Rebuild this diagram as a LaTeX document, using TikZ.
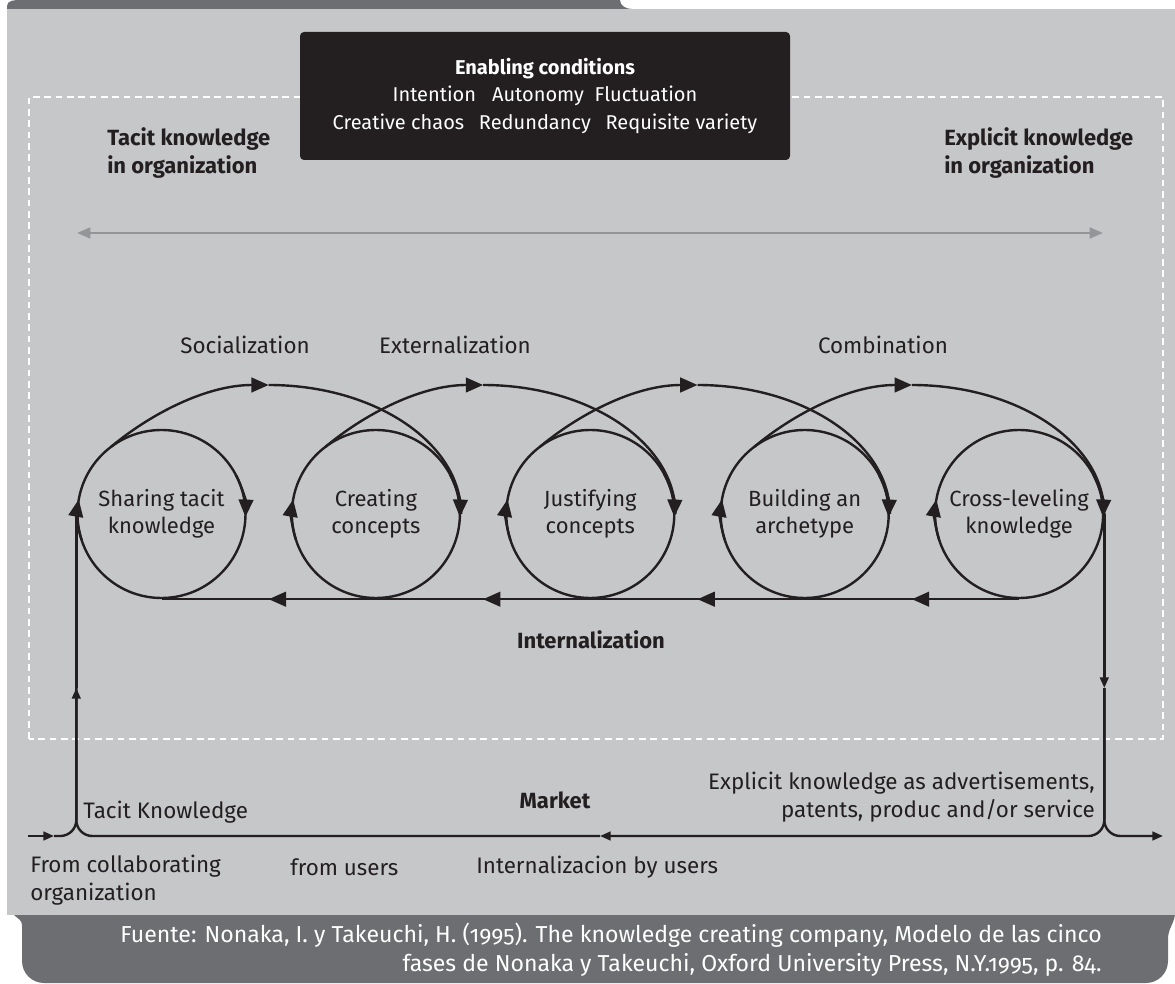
\documentclass[tikz,border=0pt]{standalone}
\usepackage{fontspec}
\setmainfont{Fira Sans}
\newfontfamily\notefont[Numbers=OldStyle]{Fira Sans}
\usepackage{tikz}
\usetikzlibrary{arrows.meta}
\usetikzlibrary{calc, positioning, decorations.markings}
\definecolor{panel}{HTML}{C6C7C9}
\definecolor{band}{HTML}{6D6E71}
\definecolor{ink}{HTML}{231F20}
\definecolor{rulegrey}{HTML}{939598}
\tikzset{
	flow/.style={draw=ink, line width=1.8pt},
	tipL/.style={-{Triangle[length=13pt, width=11pt]}},
	tipS/.style={-{Triangle[length=8pt, width=6.5pt]}},
	midtip/.style={postaction={decorate},
		decoration={markings, mark=at position #1 with {\arrow{Triangle[length=13pt, width=11pt]}}}},
	stage/.style={flow, circle,
		minimum size=126pt,
		inner sep=0pt, align=center, text=ink,
		font=\fontsize{16.5}{20}\selectfont},
	lbl/.style={inner sep=0pt, text=ink, font=\fontsize{16.8}{20.5}\selectfont},
	hdr/.style={lbl, font=\fontsize{16.5}{20.5}\selectfont\bfseries}
}

\begin{document}
\begin{tikzpicture}[x=0.75pt, y=0.75pt]
	\useasboundingbox (0,0) rectangle (1175,983);
	% page background
	\fill[panel] (7,68) rectangle (1175,974);
	\fill[band] (7,974) -- (7,977) to[out=90, in=180] (20,983) -- (620,983) to[out=-90, in=180] (632,974) -- cycle;
	\fill[band] (14,68) -- (1175,68) to[out=-100, in=90] (1168,44) -- (1168,22)
		arc[start angle=0, end angle=-90, radius=22] -- (44,0)
		arc[start angle=270, end angle=180, radius=22] -- (22,58) to[out=90, in=-45] (14,68) -- cycle;
	\draw[white, line width=1.3pt, dash pattern=on 5pt off 3.5pt] (29,244) rectangle (1163,886);
	
	\node (cond) [fill=ink, rounded corners=3pt, minimum width=367.5pt, minimum height=96pt,
		text=white, align=center, inner sep=0pt, font=\fontsize{15}{20.6}\selectfont] at (545,887)
		{\textbf{Enabling conditions}\\Intention\hspace{12pt}Autonomy\hspace{8pt}Fluctuation\\Creative chaos\hspace{11pt}Redundancy\hspace{11pt}Requisite variety};
	
	\node (tacit) [hdr, anchor=west, align=left] at (107,830) {Tacit knowledge\\in organization};
	\node (explicit) [hdr, anchor=west, align=left] at (944,830) {Explicit knowledge\\in organization};
	\coordinate (gl) at (77,750);
	\coordinate (gr) at (1103,750);
	\draw[rulegrey, line width=2pt, {Triangle[length=10pt, width=8pt]}-{Triangle[length=10pt, width=8pt]}] (gl) -- (gr);
	
	\node (c1) [stage] at (161.5,469) {Sharing tacit\\knowledge};
	\node (c2) [stage, right=33pt of c1] {Creating\\concepts};
	\node (c3) [stage, right=33pt of c2] {Justifying\\concepts};
	\node (c4) [stage, right=33pt of c3] {Building an\\archetype};
	\node (c5) [stage, right=33pt of c4] {Cross-leveling\\knowledge};
	
	\node (soc) [lbl] at (245,638) {Socialization};
	\node (ext) [lbl] at (455,638) {Externalization};
	\node (comb) [lbl] at (883,638) {Combination};
	\node (intern) [hdr] at (591,343) {Internalization};
	
	% arrows running round each circle
	\foreach \i in {1,...,5} {
		\draw[flow, tipL] (c\i.center) ++(28:84) arc[start angle=28, end angle=-2, radius=84];
		\draw[flow, tipL] (c\i.center) ++(198:84) arc[start angle=198, end angle=170, radius=84];
	}
	% arcs from one phase to the next
	\foreach \i/\j in {1/2, 2/3, 3/4, 4/5} {
		\coordinate (p\i) at ($(c\i)!0.5!(c\j)+(0,129)$);
		\draw[flow, tipL] (c\i.center) ++(127:84) .. controls +(40:50) and +(-63,0) .. (p\i);
		\draw[flow] (p\i) .. controls +(106,0) and +(0,71) .. (c\j.east);
		\draw[flow, midtip=0.5] (c\j.south) -- (c\i.south);
	}
	
	% market loop
	\coordinate (inL) at (28,147);
	\coordinate (inA) at (54,147);
	\coordinate (jl) at (c1.west |- inL);
	\coordinate (upL) at ($(jl)+(0,148)$);
	\coordinate (jr) at (c5.east |- inL);
	\coordinate (dnR) at ($(jr)+(0,148)$);
	\coordinate (mk) at (600,147);
	\coordinate (outR) at (1163,147);
	\draw[flow, tipS] (inL) -- (inA);
	\draw[flow, rounded corners=12pt, tipS] (inA) -- (jl) -- (upL);
	\draw[flow, rounded corners=12pt] (mk) -- (jl) -- (upL);
	\draw[flow] (upL) -- (c1.west);
	\draw[flow, tipS] (c5.east) -- (dnR);
	\draw[flow, rounded corners=12pt, tipS] (dnR) -- (jr) -- (mk);
	\draw[flow, rounded corners=12pt, tipS] (dnR) -- (jr) -- (outR);
	
	\node (market) [hdr] at (555,183) {Market};
	\node (tk) [lbl, anchor=west] at (83,171) {Tacit Knowledge};
	\node (ek) [lbl, anchor=east, align=right] at (1095,186) {Explicit knowledge as advertisements,\\patents, produc and/or service};
	\node (from) [lbl, anchor=west, align=left] at (30,103) {From collaborating\\organization};
	\node (users) [lbl, anchor=west] at (290,116) {from users};
	\node (byusers) [lbl, anchor=west] at (476,116) {Internalizacion by users};
	
	\node (src) [anchor=east, align=right, text=white, inner sep=0pt,
		font=\notefont\fontsize{17.3}{21.75}\selectfont] at (1102,33)
		{Fuente: Nonaka, I. y Takeuchi, H. (1995). The knowledge creating company, Modelo de las cinco\\fases de Nonaka y Takeuchi, Oxford University Press, N.Y.1995, p. 84.};
\end{tikzpicture}
\end{document}
